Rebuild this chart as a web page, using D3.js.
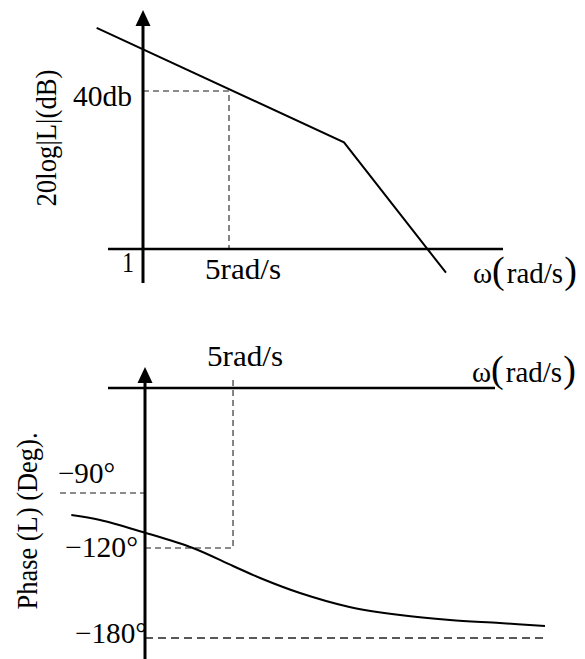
<!DOCTYPE html>
<html>
<head>
<meta charset="utf-8">
<script src="https://cdn.jsdelivr.net/npm/d3@7"></script>
<style>
  html, body { margin: 0; padding: 0; background: #fff; }
  svg { display: block; }
</style>
</head>
<body>
<svg id="chart" width="585" height="659"></svg>
<script>
// Asymptotic magnitude plot: frequency (rad/s) and gain (dB) at the corners
const magOmega = [0.42, 43, 290];
const magDb = [56, 27, -6];
const magRefOmega = 5;
const magRefDb = 40;
const magRefLabels = ["40db", "5rad/s"];
const magOriginLabel = "1";

// Phase curve: frequency (rad/s) and phase (deg)
const phaseOmega = [0.26, 0.44, 0.96, 2.4, 5, 8.2, 17, 42, 106, 264, 657, 1500];
const phaseDeg = [-102, -104.7, -111.3, -120, -132, -140, -150, -159.3, -164.7, -168, -170, -172];
const phaseTicks = [-90, -120, -180];
const phaseTickLabels = ["\u221290\u00b0", "\u2212120\u00b0", "\u2212180\u00b0"];
const phaseRefOmega = 5;
const phaseRefLabel = "5rad/s";

const axisTitles = ["20log|L|(dB)", "Phase (L) (Deg)."];
// frequency axis title pieces: symbol, bracket, unit, bracket
const omegaTitle = ["\u03c9", "(", "rad/s", ")"];

const svg = d3.select("#chart");
const FONT = 29;
const FAMILY = "'Liberation Serif', Tinos, 'Times New Roman', Times, serif";

function arrowUp(g, x, yTip) {
  g.append("path")
    .attr("d", `M${x},${yTip} L${x - 7.5},${yTip + 16} L${x + 7.5},${yTip + 16} Z`)
    .attr("fill", "#000");
}

function label(g, txt, x, y, width, anchor) {
  return g.append("text")
    .attr("x", x).attr("y", y)
    .attr("font-family", FAMILY)
    .attr("font-size", FONT)
    .attr("fill", "#000")
    .attr("text-anchor", anchor || "start")
    .attr("textLength", width)
    .attr("lengthAdjust", "spacingAndGlyphs")
    .text(txt);
}

// ω(rad/s) with tall brackets
function omegaLabel(g, x, y) {
  const t = g.append("text")
    .attr("x", x).attr("y", y)
    .attr("font-family", FAMILY)
    .attr("font-size", FONT)
    .attr("fill", "#000");
  const sizes = [FONT, 38, FONT, 38];
  omegaTitle.forEach((s, i) => {
    t.append("tspan").attr("font-size", sizes[i]).attr("dx", i === 2 ? 2 : (i === 3 ? 1 : 0)).text(s);
  });
  return t;
}

// ---------- Magnitude panel ----------
const mx = d3.scaleLog().domain([1, 5]).range([143, 229]);
const my = d3.scaleLinear().domain([0, 40]).range([249, 91]);
const magPanel = svg.append("g");

// reference dashes at 5 rad/s / 40 dB
magPanel.append("path")
  .attr("d", `M${mx(1)},${my(magRefDb)} H${mx(magRefOmega)} V${my(0)}`)
  .attr("fill", "none").attr("stroke", "#666").attr("stroke-width", 1.6)
  .attr("stroke-dasharray", "6,4");

// axes
magPanel.append("line").attr("x1", 108).attr("x2", 503).attr("y1", my(0)).attr("y2", my(0))
  .attr("stroke", "#000").attr("stroke-width", 2.4);
magPanel.append("line").attr("x1", mx(1)).attr("x2", mx(1)).attr("y1", 283).attr("y2", 20)
  .attr("stroke", "#000").attr("stroke-width", 3);
arrowUp(magPanel, mx(1), 10);

// magnitude asymptotes
magPanel.append("path")
  .datum(magOmega.map((w, i) => [w, magDb[i]]))
  .attr("d", d3.line().x(d => mx(d[0])).y(d => my(d[1])))
  .attr("fill", "none").attr("stroke", "#000").attr("stroke-width", 2);

label(magPanel, magRefLabels[0], 132, 106, 59, "end");
label(magPanel, magOriginLabel, 122, 272, 12);
label(magPanel, magRefLabels[1], 205, 279, 76);
omegaLabel(magPanel, 473, 283);
magPanel.append("text")
  .attr("transform", "translate(56,138) rotate(-90)")
  .attr("font-family", FAMILY)
  .attr("font-size", FONT).attr("text-anchor", "middle")
  .attr("textLength", 137).attr("lengthAdjust", "spacingAndGlyphs")
  .text(axisTitles[0]);

// ---------- Phase panel ----------
const px = d3.scaleLog().domain([1, 1500]).range([145, 545]);
const py = d3.scaleLinear().domain(phaseTicks).range([493, 548, 638]);
const phasePanel = svg.append("g");
const axisY = 388;

// reference dashes
phasePanel.append("line").attr("x1", 60).attr("x2", px(1) + 2).attr("y1", py(-90)).attr("y2", py(-90))
  .attr("stroke", "#666").attr("stroke-width", 1.6).attr("stroke-dasharray", "6,4");
phasePanel.append("path")
  .attr("d", `M${px(1)},${py(-120)} H${px(phaseRefOmega)} V378`)
  .attr("fill", "none").attr("stroke", "#666").attr("stroke-width", 1.6)
  .attr("stroke-dasharray", "6,4");
phasePanel.append("line").attr("x1", px(1)).attr("x2", px(1500)).attr("y1", py(-180)).attr("y2", py(-180))
  .attr("stroke", "#222").attr("stroke-width", 1.6).attr("stroke-dasharray", "8,5");

// axes
phasePanel.append("line").attr("x1", 108).attr("x2", 495).attr("y1", axisY).attr("y2", axisY)
  .attr("stroke", "#000").attr("stroke-width", 2.4);
phasePanel.append("line").attr("x1", px(1)).attr("x2", px(1)).attr("y1", 659).attr("y2", 377)
  .attr("stroke", "#000").attr("stroke-width", 3);
arrowUp(phasePanel, px(1), 367);

// phase curve
phasePanel.append("path")
  .datum(phaseOmega.map((w, i) => [w, phaseDeg[i]]))
  .attr("d", d3.line().x(d => px(d[0])).y(d => py(d[1])).curve(d3.curveCatmullRom.alpha(0.5)))
  .attr("fill", "none").attr("stroke", "#000").attr("stroke-width", 2);

// tick labels
const tickLayout = [{ x: 58, dy: -10, w: 57 }, { x: 65, dy: 9, w: 73 }, { x: 75, dy: 5, w: 72 }];
phaseTicks.forEach((t, i) => {
  label(phasePanel, phaseTickLabels[i], tickLayout[i].x, py(t) + tickLayout[i].dy, tickLayout[i].w);
});
label(phasePanel, phaseRefLabel, 207, 366, 76);
omegaLabel(phasePanel, 472, 382);
phasePanel.append("text")
  .attr("transform", "translate(37,521) rotate(-90)")
  .attr("font-family", FAMILY)
  .attr("font-size", FONT).attr("text-anchor", "middle")
  .attr("textLength", 177).attr("lengthAdjust", "spacingAndGlyphs")
  .text(axisTitles[1]);
</script>
</body>
</html>
